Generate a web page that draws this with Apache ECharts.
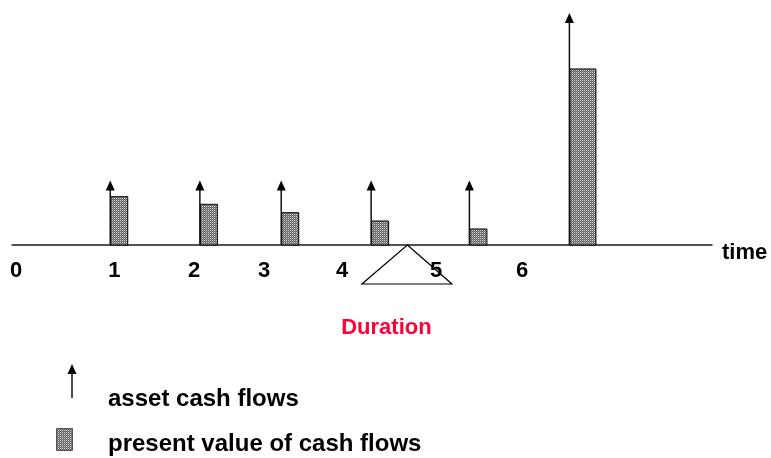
<!DOCTYPE html>
<html><head><meta charset="utf-8">
<script src="https://cdn.jsdelivr.net/npm/echarts@6/dist/echarts.min.js"></script>
<style>html,body{margin:0;padding:0;background:#fff}#c{width:771px;height:458px}</style>
</head><body><div id="c"></div>
<script>
// ---------- data ----------
const cashFlowTimes   = [1, 1.976, 2.862, 3.841, 4.911, 6];
const assetCashFlows  = [10, 10, 10, 10, 10, 36];
const presentValues   = [7.49, 6.31, 5.01, 3.72, 2.48, 27.3];
const tickLabels      = ['0', '1', '2', '3', '4', '5', '6'];
const tickLabelTimes  = [-0.025, 1.044, 1.914, 2.676, 3.526, 4.549, 5.485];
const durationTime    = [4.236];
const legendLabels    = ['asset cash flows', 'present value of cash flows'];

// ---------- style ----------
const FONT = '"Liberation Sans", Arial, sans-serif';
const BAR_W = [17, 17, 17, 17, 17, 26];

const pc = document.createElement('canvas');
pc.width = 2; pc.height = 2;
const g = pc.getContext('2d');
g.fillStyle = '#5e5e5e'; g.fillRect(0, 0, 2, 2);
g.fillStyle = '#dcdcdc'; g.fillRect(0, 0, 1, 1);
g.fillStyle = '#8e8e8e'; g.fillRect(1, 1, 1, 1);
const hatch = { image: pc, repeat: 'repeat' };

function nearestIdx(v) {
  let best = 0, d = Infinity;
  tickLabelTimes.forEach((t, i) => { const dd = Math.abs(t - v); if (dd < d) { d = dd; best = i; } });
  return best;
}

const chart = echarts.init(document.getElementById('c'), null, { renderer: 'canvas' });
chart.setOption({
  animation: false,
  backgroundColor: '#fff',
  grid: { left: 12, right: 59, top: 0, bottom: 213 },
  xAxis: {
    type: 'value', min: -0.07, max: 7.553,
    axisLine: { show: true, onZero: false, lineStyle: { color: '#1a1a1a', width: 1.5 } },
    axisTick: { show: false },
    splitLine: { show: false },
    axisLabel: {
      customValues: tickLabelTimes,
      formatter: v => tickLabels[nearestIdx(v)],
      color: '#000', fontFamily: FONT, fontWeight: 'bold', fontSize: 22, margin: 15
    },
    name: 'time', nameLocation: 'end', nameGap: 10,
    nameTextStyle: { color: '#000', fontFamily: FONT, fontWeight: 'bold', fontSize: 22, verticalAlign: 'top', lineHeight: 16 }
  },
  yAxis: { type: 'value', min: 0, max: 38, show: false, splitLine: { show: false } },
  series: [
    {
      type: 'custom', name: 'present value of cash flows', z: 2,
      data: cashFlowTimes.map((t, i) => [t, presentValues[i]]),
      renderItem(params, api) {
        const b = api.coord([api.value(0), 0]);
        const t = api.coord([api.value(0), api.value(1)]);
        const w = BAR_W[params.dataIndex];
        return { type: 'rect', shape: { x: b[0] + 0.5, y: t[1], width: w, height: b[1] - t[1] },
                 style: { fill: hatch, stroke: '#000', lineWidth: 1 } };
      }
    },
    {
      type: 'custom', name: 'asset cash flows', z: 3,
      data: cashFlowTimes.map((t, i) => [t, assetCashFlows[i]]),
      renderItem(params, api) {
        const b = api.coord([api.value(0), 0]);
        const t = api.coord([api.value(0), api.value(1)]);
        return { type: 'group', children: [
          { type: 'line', shape: { x1: b[0], y1: b[1], x2: t[0], y2: t[1] + 7 }, style: { stroke: '#111', lineWidth: 1.5 } },
          { type: 'polygon', shape: { points: [[t[0], t[1]], [t[0] - 4.5, t[1] + 10], [t[0] + 4.5, t[1] + 10]] }, style: { fill: '#000' } }
        ] };
      }
    },
    {
      type: 'custom', name: 'Duration', z: 4,
      data: durationTime.map(d => [d, 0]),
      renderItem(params, api) {
        const a = api.coord([api.value(0), 0]);
        return { type: 'group', children: [
          { type: 'polygon', shape: { points: [[a[0], a[1]], [a[0] + 44.5, a[1] + 39], [a[0] - 45.5, a[1] + 39]] },
            style: { fill: 'none', stroke: '#000', lineWidth: 1.2 } },
          { type: 'text', x: a[0] - 21, y: a[1] + 83,
            style: { text: 'Duration', fill: '#ff0033', font: 'bold 22px ' + FONT, align: 'center', verticalAlign: 'middle' } }
        ] };
      }
    }
  ],
  graphic: [
    { type: 'line', shape: { x1: 72, y1: 398, x2: 72, y2: 372 }, style: { stroke: '#111', lineWidth: 1.5 } },
    { type: 'polygon', shape: { points: [[72, 364], [67.5, 374], [76.5, 374]] }, style: { fill: '#000' } },
    { type: 'text', x: 108, y: 399, style: { text: legendLabels[0], fill: '#000', font: 'bold 24px ' + FONT, verticalAlign: 'middle' } },
    { type: 'rect', shape: { x: 56.5, y: 428.5, width: 16, height: 22 }, style: { fill: hatch, stroke: '#555', lineWidth: 1 } },
    { type: 'text', x: 108, y: 444, style: { text: legendLabels[1], fill: '#000', font: 'bold 24px ' + FONT, verticalAlign: 'middle' } }
  ]
});
</script>
</body></html>
